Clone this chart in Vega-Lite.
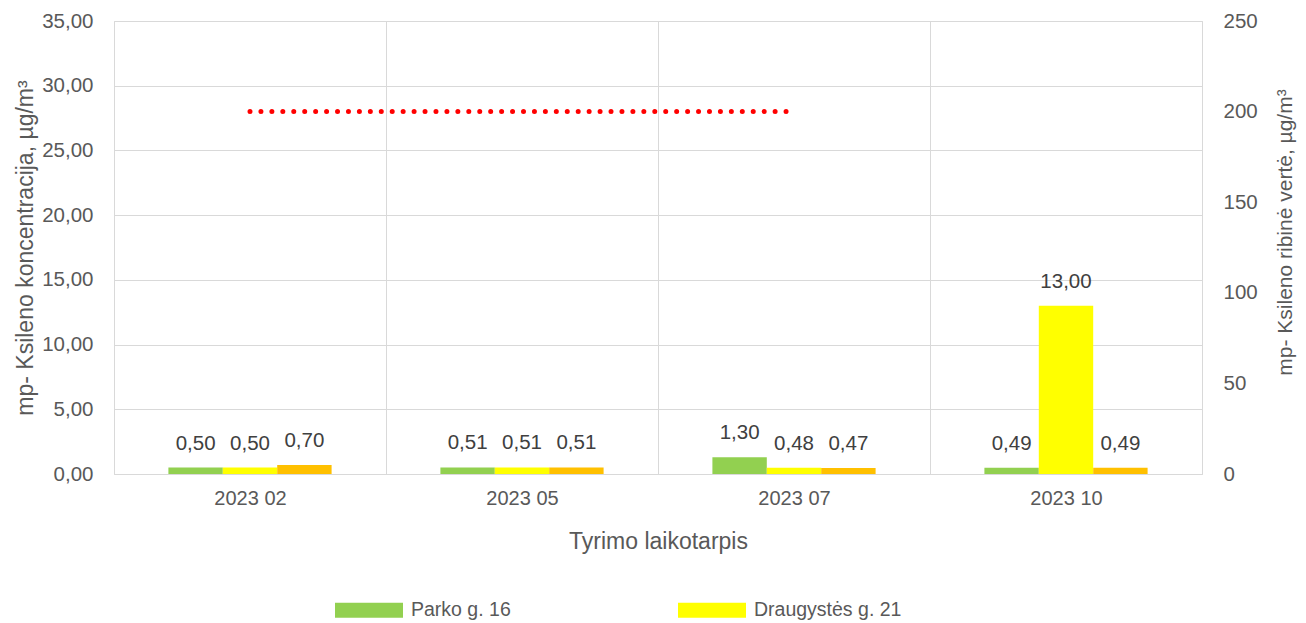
{
  "$schema": "https://vega.github.io/schema/vega-lite/v6.json",
  "width": 1088,
  "height": 453,
  "autosize": {"type": "none"},
  "padding": {"left": 114, "top": 21, "right": 104, "bottom": 149},
  "background": "white",
  "config": {
    "locale": {"number": {"decimal": ",", "thousands": " ", "grouping": [3], "currency": ["", " €"]}},
    "view": {"stroke": "#D9D9D9", "strokeWidth": 1},
    "font": "Liberation Sans",
    "axis": {"labelFont": "Liberation Sans", "titleFont": "Liberation Sans", "labelColor": "#595959", "titleColor": "#595959", "titleFontWeight": "normal"},
    "legend": {"labelFont": "Liberation Sans"}
  },
  "datasets": {
    "bars": [
      {"period": "2023 02", "site": "Parko g. 16", "value": 0.50},
      {"period": "2023 02", "site": "Draugystės g. 21", "value": 0.50},
      {"period": "2023 02", "site": "Trečioji vieta", "value": 0.70},
      {"period": "2023 05", "site": "Parko g. 16", "value": 0.51},
      {"period": "2023 05", "site": "Draugystės g. 21", "value": 0.51},
      {"period": "2023 05", "site": "Trečioji vieta", "value": 0.51},
      {"period": "2023 07", "site": "Parko g. 16", "value": 1.30},
      {"period": "2023 07", "site": "Draugystės g. 21", "value": 0.48},
      {"period": "2023 07", "site": "Trečioji vieta", "value": 0.47},
      {"period": "2023 10", "site": "Parko g. 16", "value": 0.49},
      {"period": "2023 10", "site": "Draugystės g. 21", "value": 13.00},
      {"period": "2023 10", "site": "Trečioji vieta", "value": 0.49}
    ],
    "limit": [
      {"period": "2023 02", "limit": 200},
      {"period": "2023 05", "limit": 200},
      {"period": "2023 07", "limit": 200}
    ]
  },
  "encoding": {
    "x": {
      "field": "period", "type": "nominal",
      "scale": {"type": "band", "domain": ["2023 02", "2023 05", "2023 07", "2023 10"], "paddingInner": 0, "paddingOuter": 0},
      "axis": {
        "title": "Tyrimo laikotarpis", "labelAngle": 0, "labelFontSize": 20, "labelPadding": 14,
        "ticks": false, "domain": false, "grid": true, "gridColor": "#D9D9D9", "tickBand": "extent",
        "titleFontSize": 23, "titleX": 544, "titleY": 67, "titleBaseline": "middle", "titleAlign": "center"
      }
    }
  },
  "layer": [
    {
      "data": {"name": "bars"},
      "encoding": {
        "xOffset": {
          "field": "site", "type": "nominal",
          "scale": {"domain": ["Parko g. 16", "Draugystės g. 21", "Trečioji vieta"], "paddingInner": 0, "paddingOuter": 1.2}
        },
        "y": {
          "field": "value", "type": "quantitative",
          "scale": {"domain": [0, 35], "nice": false, "zero": true},
          "axis": {
            "title": "mp- Ksileno koncentracija, µg/m³", "values": [0, 5, 10, 15, 20, 25, 30, 35], "format": ".2f",
            "labelFontSize": 20.5, "labelPadding": 21, "ticks": false, "domain": false, "grid": true, "gridColor": "#D9D9D9",
            "titleFontSize": 23, "titleAngle": -90, "titleX": -89, "titleY": 226.5, "titleAlign": "center", "titleBaseline": "middle"
          }
        }
      },
      "layer": [
        {
          "mark": {"type": "bar"},
          "encoding": {
            "color": {
              "field": "site", "type": "nominal",
              "scale": {"domain": ["Parko g. 16", "Draugystės g. 21", "Trečioji vieta"], "range": ["#92D050", "#FFFF00", "#FFC000"]},
              "legend": {
                "orient": "none", "legendX": 221, "legendY": 555, "direction": "horizontal", "title": null,
                "values": ["Parko g. 16", "Draugystės g. 21"],
                "symbolType": "M-1,-0.22L1,-0.22L1,0.22L-1,0.22Z", "symbolSize": 4624, "symbolStrokeWidth": 0,
                "labelFontSize": 19.5, "labelColor": "#595959", "labelOffset": 8, "columnPadding": 167, "padding": 0
              }
            }
          }
        },
        {
          "mark": {"type": "text", "dy": -18, "baseline": "alphabetic", "fontSize": 20.5, "color": "#404040"},
          "encoding": {"text": {"field": "value", "type": "quantitative", "format": ".2f"}}
        }
      ]
    },
    {
      "data": {"name": "limit"},
      "mark": {"type": "line", "color": "#FF0000", "strokeWidth": 5, "strokeDash": [0, 10.94], "strokeCap": "round"},
      "encoding": {
        "y": {
          "field": "limit", "type": "quantitative",
          "scale": {"domain": [0, 250], "nice": false, "zero": true},
          "axis": {
            "orient": "right", "title": "mp- Ksileno ribinė vertė,  µg/m³", "values": [0, 50, 100, 150, 200, 250], "format": "d",
            "labelFontSize": 20.5, "labelPadding": 21, "ticks": false, "domain": false, "grid": false,
            "titleFontSize": 21, "titleAngle": -90, "titleX": 83, "titleY": 211, "titleAlign": "center", "titleBaseline": "middle"
          }
        }
      }
    }
  ],
  "resolve": {"scale": {"y": "independent"}, "axis": {"y": "independent"}}
}
